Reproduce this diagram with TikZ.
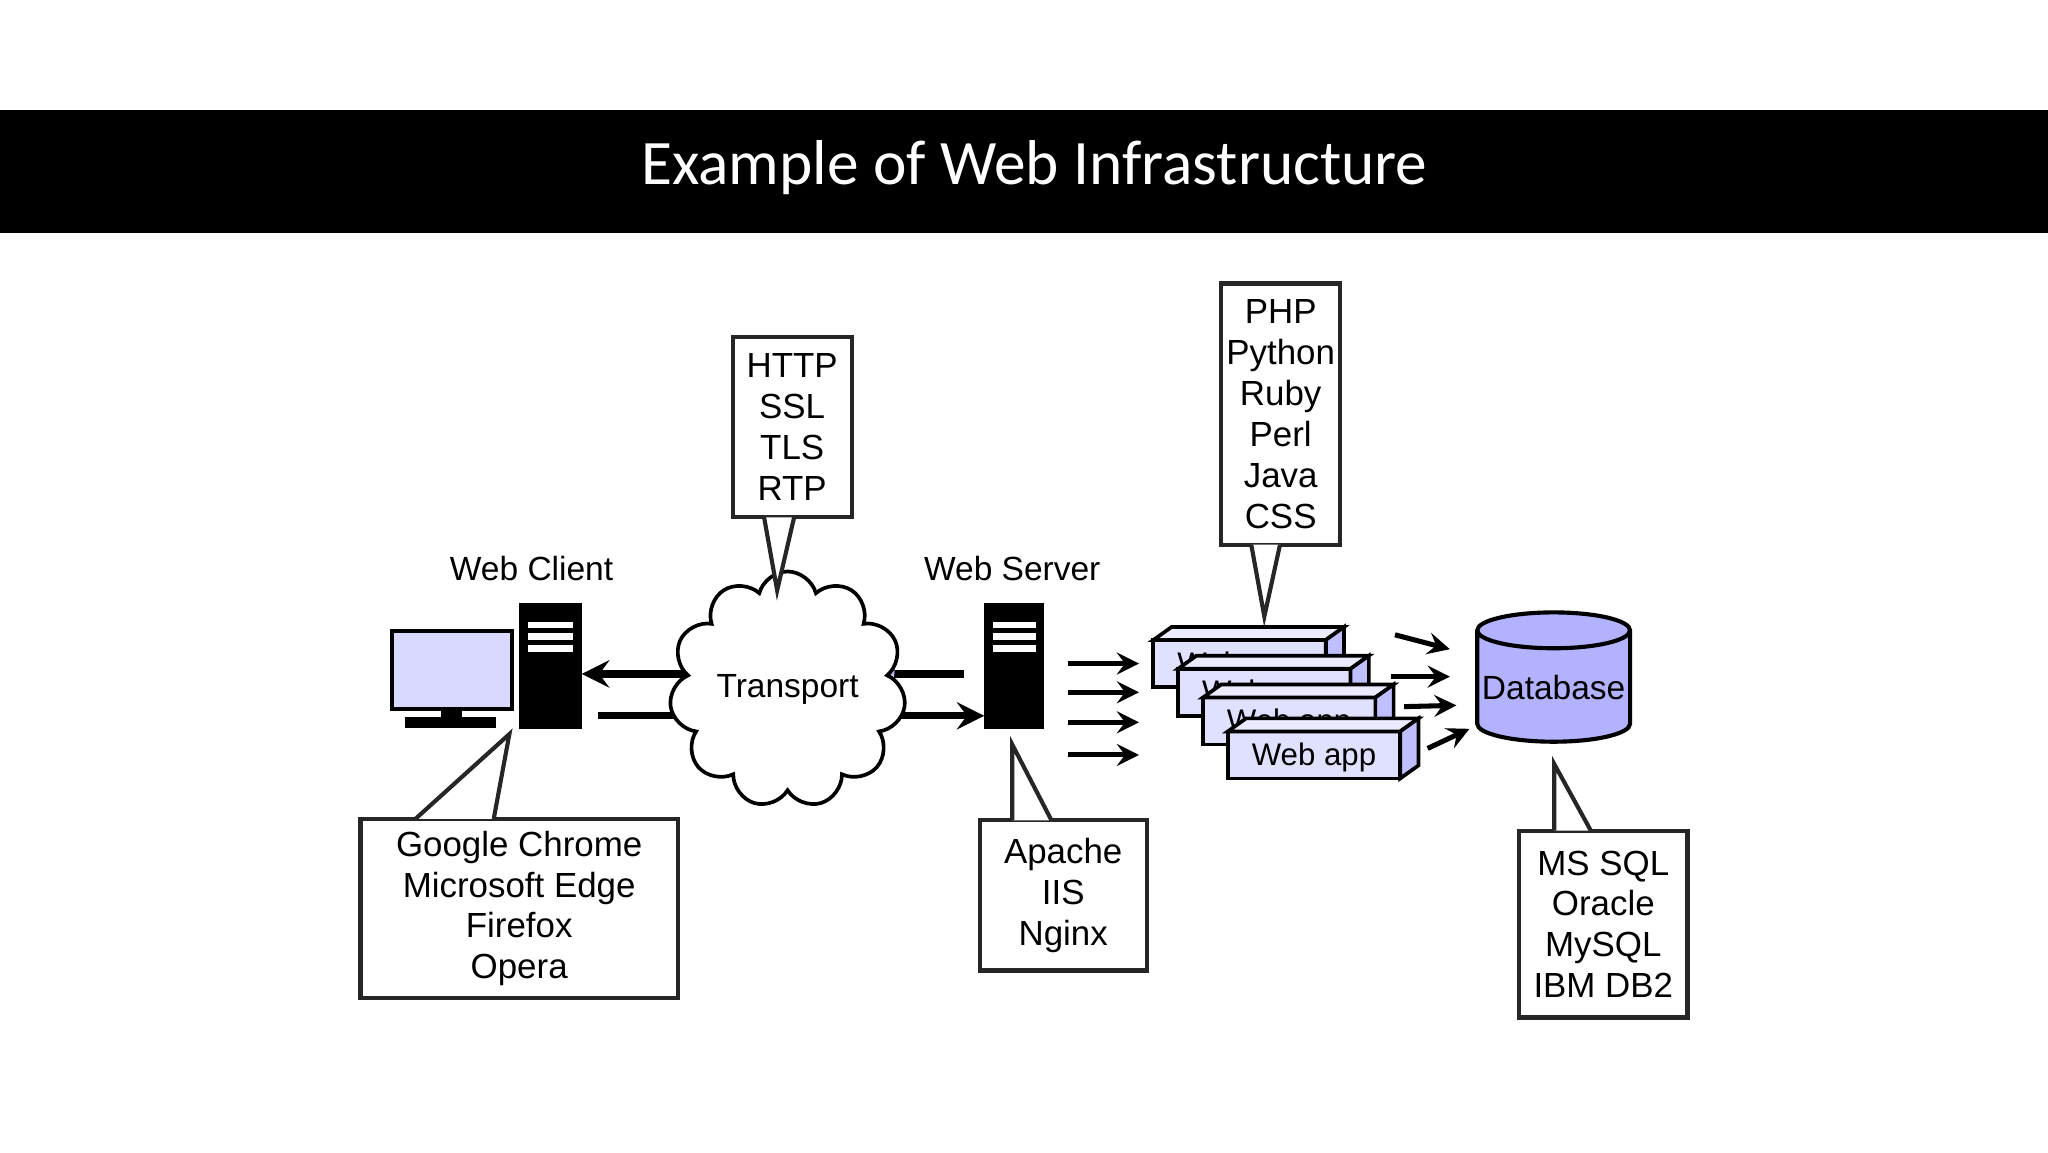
\documentclass[tikz,border=0pt]{standalone}
\usepackage{fontspec}
\setmainfont{Liberation Sans}
\newfontfamily\titlefont{Carlito}
\usetikzlibrary{shapes.symbols,shapes.geometric,positioning}
\tikzstyle{callout} = [rectangle, draw=black!85, line width=0.9pt, fill=white, align=center, inner sep=0pt, font=\fontsize{7.6}{8.9}\selectfont]
\tikzstyle{arrow} = [line width=1.6pt,->,>=stealth]
\tikzstyle{thinarrow} = [line width=1.1pt,->,>=stealth]
\tikzstyle{tower} = [rectangle, draw=black, fill=black, line width=0.8pt]
\newcommand{\pointer}[3]{% base left, base right, tip
  \fill[white] (#1) -- (#3) -- (#2) -- cycle;
  \draw[line width=0.9pt, black!85] (#1) -- (#3) -- (#2);}
\newcommand{\webbox}[2]{% top left of front face
  \begin{scope}[shift={(#1,#2)}]
    \fill[blue!12] (0,0) rectangle (1.32,-0.36);
    \draw[line width=0.8pt, fill=blue!8] (0,0) -- (0.14,0.1) -- (1.46,0.1) -- (1.32,0) -- cycle;
    \draw[line width=0.8pt, fill=blue!25] (1.32,0) -- (1.46,0.1) -- (1.46,-0.26) -- (1.32,-0.36) -- cycle;
    \draw[line width=0.8pt] (0,0) rectangle (1.32,-0.36);
    \node[font=\fontsize{6.8}{8}\selectfont] at (0.66,-0.2) {Web app};
  \end{scope}}

\begin{document}
\begin{tikzpicture}[x=1cm,y=1cm]
  \useasboundingbox (0,0) rectangle (15.68,-8.82);
  % title band
  \fill[black] (0,-0.84) rectangle (15.68,-1.78);
  \node (title) [text=white, font=\titlefont\fontsize{13.8}{15}\selectfont] at (7.92,-1.28) {Example of Web Infrastructure};

  % web client
  \node (clientLabel) [font=\fontsize{7.3}{9}\selectfont] at (4.07,-4.35) {Web Client};
  \draw[line width=0.8pt, fill=blue!15] (3.0,-4.83) rectangle (3.92,-5.43);
  \fill[black] (3.38,-5.43) rectangle (3.54,-5.5);
  \fill[black] (3.1,-5.49) rectangle (3.8,-5.57);
  \node (client) [tower, minimum width=0.45cm, minimum height=0.94cm] at (4.215,-5.1) {};
  \foreach \yy in {-4.76,-4.85,-4.94} \fill[white] (4.04,\yy) rectangle (4.39,\yy-0.05);

  % web server
  \node (serverLabel) [font=\fontsize{7.3}{9}\selectfont] at (7.75,-4.35) {Web Server};
  \node (server) [tower, minimum width=0.43cm, minimum height=0.94cm] at (7.765,-5.1) {};
  \foreach \yy in {-4.76,-4.85,-4.94} \fill[white] (7.6,\yy) rectangle (7.93,\yy-0.05);

  % transport lines and cloud
  \coordinate (topR) at (7.38,-5.16);
  \coordinate (botL) at (4.58,-5.48);
  \draw[arrow] (topR) -- (client.east |- topR);
  \draw[arrow] (botL) -- (server.west |- botL);
  \node (cloudShadow) [cloud, cloud puffs=11, fill=blue!25, inner sep=0pt, minimum width=1.7cm, minimum height=1.36cm] at (6.05,-5.33) {};
  \node (transport) [cloud, cloud puffs=11, draw, line width=0.8pt, fill=white, inner sep=0pt, minimum width=1.7cm, minimum height=1.36cm, font=\fontsize{7.3}{9}\selectfont] at (6.03,-5.28) {Transport};

  % web apps
  \webbox{8.83}{-4.9}
  \webbox{9.02}{-5.12}
  \webbox{9.21}{-5.34}
  \webbox{9.40}{-5.6}
  \foreach \yy in {-5.08,-5.30,-5.53,-5.78} \draw[thinarrow] (8.18,\yy) -- (8.72,\yy);

  % database
  \node (db) [cylinder, shape border rotate=90, aspect=0.25, draw, line width=0.9pt, fill=blue!30, inner sep=0pt, minimum width=1.17cm, minimum height=0.99cm, font=\fontsize{7.3}{9}\selectfont] at (11.895,-5.26) {Database};
  \draw[thinarrow] (10.68,-4.86) -- (11.10,-4.97);
  \draw[thinarrow] (10.65,-5.18) -- (11.10,-5.18);
  \draw[thinarrow] (10.75,-5.41) -- (11.15,-5.40);
  \draw[thinarrow] (10.93,-5.73) -- (11.25,-5.58);

  % callouts
  \node (protocols) [callout, minimum width=0.91cm, minimum height=1.38cm] at (6.065,-3.27) {HTTP\\SSL\\TLS\\RTP};
  \pointer{5.85,-3.96}{6.08,-3.96}{5.95,-4.52}
  \node (languages) [callout, minimum width=0.91cm, minimum height=2.0cm] at (9.805,-3.17) {PHP\\Python\\Ruby\\Perl\\Java\\CSS};
  \pointer{9.58,-4.17}{9.8,-4.17}{9.68,-4.72}
  \node (browsers) [callout, minimum width=2.43cm, minimum height=1.37cm] at (3.975,-6.955) {Google Chrome\\Microsoft Edge\\Firefox\\Opera};
  \pointer{3.18,-6.27}{3.78,-6.27}{3.9,-5.62}
  \node (webservers) [callout, minimum width=1.28cm, minimum height=1.15cm] at (8.14,-6.855) {Apache\\IIS\\Nginx};
  \pointer{7.75,-6.28}{8.05,-6.28}{7.75,-5.7}
  \node (databases) [callout, minimum width=1.29cm, minimum height=1.43cm] at (12.275,-7.075) {MS SQL\\Oracle\\MySQL\\IBM DB2};
  \pointer{11.9,-6.36}{12.18,-6.36}{11.9,-5.85}
\end{tikzpicture}
\end{document}
